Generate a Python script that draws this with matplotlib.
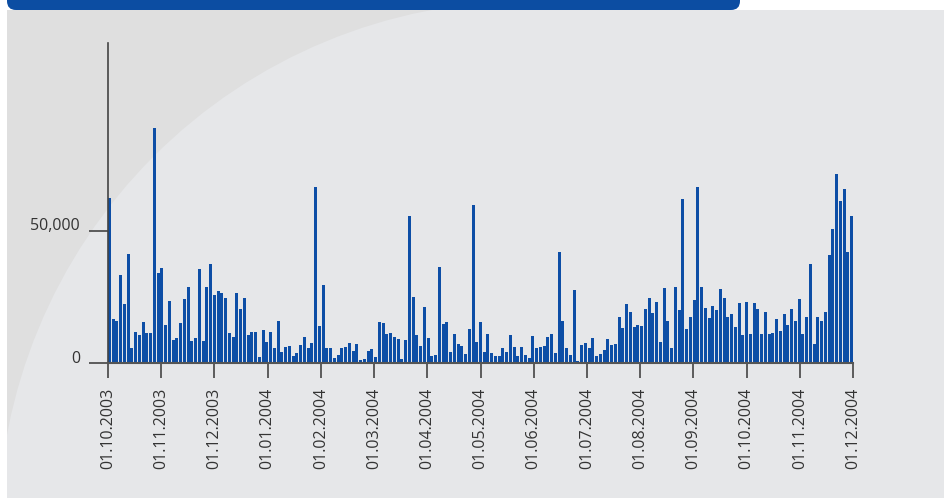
import numpy as np
import matplotlib
matplotlib.use("Agg")
import matplotlib.pyplot as plt
from matplotlib.patches import Rectangle, Circle, FancyBboxPatch
from matplotlib.transforms import ScaledTranslation

# ---- data ----
values = [
    62500, 16700, 15900, 33300, 22400, 41300, 5700, 11700, 10600, 15500,
    11400, 11400, 89000, 34100, 36000, 14400, 23500, 8700, 9500, 15200,
    24200, 28800, 8300, 9500, 35600, 8300, 28800, 37500, 25800, 27300,
    26500, 24600, 11400, 9900, 26500, 20500, 24600, 10600, 11700, 11700,
    2300, 12500, 8000, 11700, 5700, 15900, 4200, 6100, 6400, 2700,
    3800, 6800, 9900, 5700, 7600, 66700, 14000, 29600, 5700, 5700,
    1900, 3000, 5700, 6100, 7600, 4500, 7200, 1100, 1500, 4500,
    5300, 2300, 15500, 15200, 11000, 11400, 9900, 9100, 1500, 8700,
    55700, 25000, 10600, 6400, 21200, 9500, 2700, 3000, 36400, 14800,
    15500, 4200, 11000, 7200, 6400, 3400, 12900, 59900, 8000, 15500,
    4200, 11000, 3800, 2700, 2700, 5700, 4200, 10600, 6100, 2700,
    6100, 3000, 1900, 10200, 5700, 6100, 6400, 9900, 11000, 3800,
    42100, 15900, 5700, 3000, 27700, 800, 6800, 7600, 5700, 9500,
    2700, 3400, 4900, 9100, 6800, 7200, 17400, 13300, 22400, 19300,
    13600, 14400, 14000, 20500, 24600, 18900, 23100, 8000, 28400, 15900,
    5700, 28800, 20100, 62100, 12900, 17400, 23900, 66700, 28800, 20800,
    17000, 21600, 20100, 28000, 24600, 17400, 18600, 13600, 22700, 10600,
    23100, 11000, 22700, 20500, 11000, 19300, 11000, 11400, 16700, 12100,
    18600, 14400, 20500, 15900, 24200, 11000, 17400, 37500, 7200, 17400,
    15900, 19300, 40900, 50800, 71600, 61400, 65900, 42100, 55700,
]
tick_labels = [
    "01.10.2003", "01.11.2003", "01.12.2003", "01.01.2004", "01.02.2004",
    "01.03.2004", "01.04.2004", "01.05.2004", "01.06.2004", "01.07.2004",
    "01.08.2004", "01.09.2004", "01.10.2004", "01.11.2004", "01.12.2004",
]
y_ticks = [0, 50000]
y_tick_labels = ["0", "50,000"]

W, H = 944, 498
fig = plt.figure(figsize=(W / 100, H / 100), dpi=100)
fig.patch.set_facecolor("white")

# ---- background decoration (pixel coordinates) ----
bg = fig.add_axes([0, 0, 1, 1], zorder=-10)
bg.set_xlim(0, W)
bg.set_ylim(H, 0)
bg.axis("off")
light = "#e6e7e9"
panel = Rectangle((7, 10), W - 7, H - 10, facecolor="#dfdfdf", edgecolor="none")
bg.add_patch(panel)
circ = Circle((529, 532), 531, facecolor=light, edgecolor="none")
bg.add_patch(circ)
circ.set_clip_path(panel)
right_fill = Rectangle((529, 10), W - 529, H - 10, facecolor=light, edgecolor="none")
bg.add_patch(right_fill)
header = FancyBboxPatch((7, -30), 733, 40,
                        boxstyle="round,pad=0,rounding_size=9",
                        facecolor="#0c4da2", edgecolor="none")
bg.add_patch(header)

# ---- main chart ----
font = "Open Sans"
txt_color = "#333333"
ax = fig.add_axes([108 / W, 135 / H, 745 / W, 320 / H])
ax.set_facecolor("none")

n = len(values)
x = np.arange(n)
ax.bar(x, values, width=0.8, align="edge", color="#0d4ea6", edgecolor="none")

ax.set_xlim(0, n - 0.2)
ax.set_ylim(0, 121000)

ax.set_xticks(np.linspace(0, n - 0.2, len(tick_labels)))
ax.set_xticklabels(tick_labels, rotation=90, fontsize=11.5,
                   family=font, color=txt_color)
ax.set_yticks(y_ticks)
ax.set_yticklabels([""] * len(y_ticks))
ytrans = ax.get_yaxis_transform() + ScaledTranslation(-0.28, 0.045, fig.dpi_scale_trans)
for yv, lab in zip(y_ticks, y_tick_labels):
    ax.text(0, yv, lab, transform=ytrans, ha="right", va="center",
            fontsize=11.5, family=font, color=txt_color)

ax.tick_params(axis="x", length=11, width=1.2, color="#444444", pad=7)
ax.tick_params(axis="y", length=14, width=1.2, color="#444444", pad=6)

for s in ["top", "right"]:
    ax.spines[s].set_visible(False)
ax.spines["left"].set_color("#444444")
ax.spines["left"].set_linewidth(1.2)
ax.spines["bottom"].set_color("#555555")
ax.spines["bottom"].set_linewidth(1.5)

fig.savefig("out.png", dpi=100)
